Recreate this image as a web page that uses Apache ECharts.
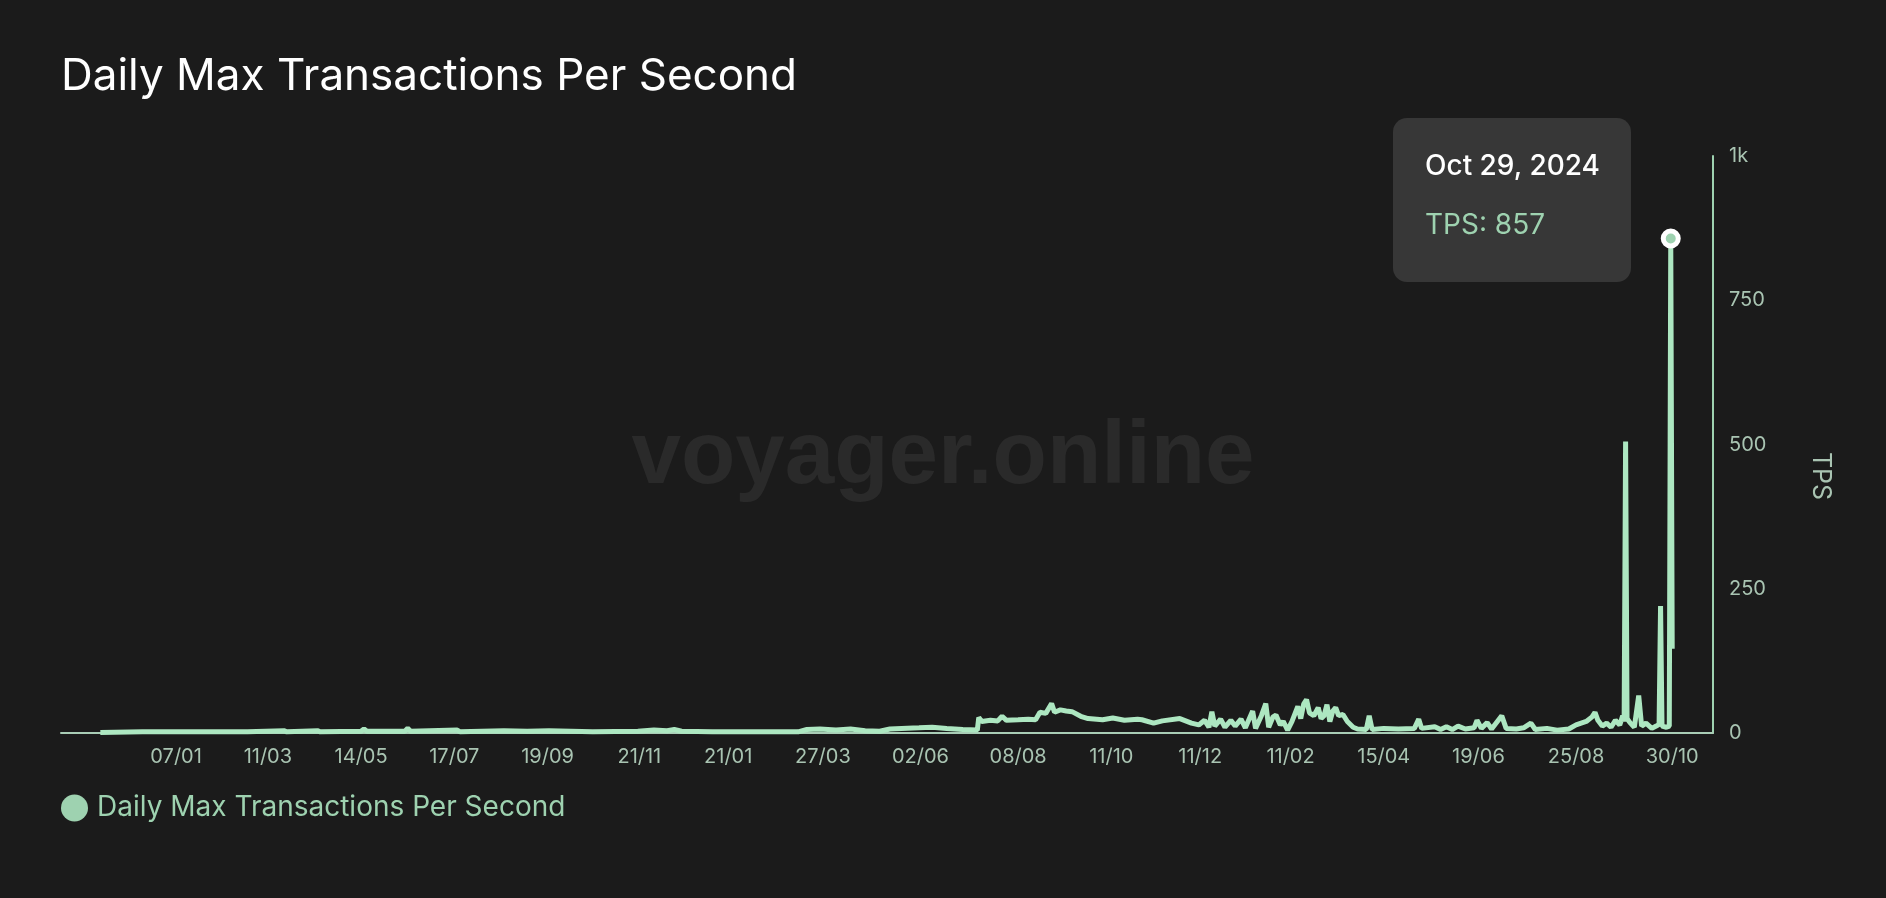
<!DOCTYPE html>
<html>
<head>
<meta charset="utf-8">
<script src="https://cdn.jsdelivr.net/npm/echarts@6/dist/echarts.min.js"></script>
<style>
html,body{margin:0;padding:0;background:#1b1b1b;}
#chart{width:1886px;height:898px;}
</style>
</head>
<body>
<div id="chart"></div>
<script>
const chartTitle = 'Daily Max Transactions Per Second';
const seriesName = 'Daily Max Transactions Per Second';
const watermark = 'voyager.online';
const yAxisName = 'TPS';

const dates = [
 '2021-11-16','2021-12-15','2022-01-20','2022-02-25','2022-03-22','2022-03-24','2022-04-14','2022-04-16','2022-05-14','2022-05-16',
 '2022-05-18','2022-06-13','2022-06-15','2022-06-17','2022-07-19','2022-07-21','2022-08-20','2022-09-05','2022-09-20','2022-10-20',
 '2022-11-20','2022-12-01','2022-12-10','2022-12-15','2022-12-20','2023-01-10','2023-02-10','2023-03-10','2023-03-16','2023-03-25',
 '2023-04-05','2023-04-15','2023-04-25','2023-05-05','2023-05-12','2023-05-20','2023-06-01','2023-06-10','2023-06-20','2023-07-01',
 '2023-07-11','2023-07-12','2023-07-14','2023-07-20','2023-07-25','2023-07-28','2023-07-31','2023-08-08','2023-08-15','2023-08-20',
 '2023-08-23','2023-08-27','2023-08-31','2023-09-02','2023-09-06','2023-09-10','2023-09-14','2023-09-20','2023-09-25','2023-10-05',
 '2023-10-12','2023-10-20','2023-10-29','2023-11-01','2023-11-09','2023-11-15','2023-11-27','2023-12-05','2023-12-10','2023-12-14',
 '2023-12-17','2023-12-19','2023-12-21','2023-12-25','2023-12-28','2024-01-01','2024-01-04','2024-01-08','2024-01-11','2024-01-16',
 '2024-01-18','2024-01-22','2024-01-25','2024-01-27','2024-01-30','2024-02-01','2024-02-04','2024-02-06','2024-02-09','2024-02-12',
 '2024-02-16','2024-02-18','2024-02-20','2024-02-22','2024-02-24','2024-02-27','2024-03-01','2024-03-03','2024-03-05','2024-03-07',
 '2024-03-09','2024-03-11','2024-03-13','2024-03-15','2024-03-18','2024-03-21','2024-03-25','2024-03-28','2024-04-03','2024-04-05',
 '2024-04-07','2024-04-15','2024-04-25','2024-05-06','2024-05-09','2024-05-11','2024-05-20','2024-05-24','2024-05-28','2024-06-01',
 '2024-06-05','2024-06-10','2024-06-16','2024-06-18','2024-06-21','2024-06-25','2024-06-28','2024-07-05','2024-07-08','2024-07-15',
 '2024-07-20','2024-07-25','2024-07-28','2024-08-05','2024-08-12','2024-08-20','2024-08-25','2024-09-01','2024-09-05','2024-09-07',
 '2024-09-09','2024-09-12','2024-09-15','2024-09-18','2024-09-21','2024-09-24','2024-09-26','2024-09-27','2024-09-28','2024-09-29',
 '2024-10-01','2024-10-04','2024-10-07','2024-10-09','2024-10-12','2024-10-16','2024-10-19','2024-10-21','2024-10-22','2024-10-23',
 '2024-10-26','2024-10-28','2024-10-29','2024-10-30'
];
const tps = [
 1,2,2,2,4,2,4,2,3,7,
 3,3,8,3,5,2,4,3,4,2,
 3,5,4,6,3,2,2,2,6,7,
 5,7,4,3,7,8,9,10,8,6,
 5,27,20,22,21,29,22,23,24,23,
 36,34,51,36,40,38,37,29,25,23,
 26,22,24,23,17,21,25,17,14,22,
 10,37,12,24,10,22,12,24,9,38,
 8,30,51,10,28,31,14,20,5,20,
 46,25,50,58,35,30,44,25,30,49,
 20,38,44,30,32,20,10,7,6,30,
 6,8,7,8,24,8,11,6,11,6,
 12,7,9,22,8,18,7,30,8,7,
 9,17,6,8,5,7,14,20,28,36,
 22,12,17,10,22,14,30,20,505,25,
 18,10,65,12,17,8,12,15,220,12,
 10,12,857,146
];

const xTickDates = ['2022-01-07','2022-03-11','2022-05-14','2022-07-17','2022-09-19','2022-11-21',
 '2023-01-21','2023-03-27','2023-06-02','2023-08-08','2023-10-11','2023-12-11',
 '2024-02-11','2024-04-15','2024-06-19','2024-08-25','2024-10-30'];
const xMin = '2021-10-20';
const xMax = '2024-11-27';
const monthNames = ['Jan','Feb','Mar','Apr','May','Jun','Jul','Aug','Sep','Oct','Nov','Dec'];

function parseLocal(s){ const p = s.split('-').map(Number); return new Date(p[0], p[1]-1, p[2]).getTime(); }
function pad(n){ return (n < 10 ? '0' : '') + n; }

const GREEN = '#9ed2b0';
const LABEL = '#a9c4b2';
const FONT = 'Inter';

const chart = echarts.init(document.getElementById('chart'), null, {renderer: 'canvas'});
const seriesData = dates.map((d, i) => [parseLocal(d), tps[i]]);
const maxIdx = tps.indexOf(Math.max(...tps));

chart.setOption({
  animation: false,
  backgroundColor: '#1b1b1b',
  textStyle: {fontFamily: FONT},
  title: {
    text: chartTitle, left: 56, top: 50,
    textStyle: {color: '#ffffff', fontSize: 44, fontWeight: 400, fontFamily: FONT}
  },
  legend: {
    left: 56, top: 789, icon: 'circle', itemWidth: 27, itemHeight: 27,
    itemStyle: {borderWidth: 0, color: GREEN},
    textStyle: {color: GREEN, fontSize: 28, fontFamily: FONT, padding: [0,0,0,4]},
    data: [seriesName]
  },
  graphic: [{
    type: 'text', left: 'center', top: 414, z: 0, silent: true,
    style: {text: watermark, fill: '#2a2a2a', font: 'bold 89px "Liberation Sans", Arial, sans-serif'}
  }, {
    type: 'text', x: 1821, y: 476, rotation: -Math.PI/2, silent: true,
    style: {text: yAxisName, fill: LABEL, font: '25px Inter', align: 'center', verticalAlign: 'middle'}
  }],
  grid: {left: 61, right: 173, top: 156, bottom: 165, containLabel: false},
  tooltip: {
    trigger: 'axis', triggerOn: 'none', alwaysShowContent: true,
    axisPointer: {type: 'none'},
    position: [1393, 118],
    backgroundColor: '#373737', borderWidth: 0, padding: 0,
    extraCssText: 'border-radius:14px;box-shadow:none;',
    formatter: function(params){
      const p = params[0];
      const parts = dates[p.dataIndex].split('-').map(Number);
      const dateStr = monthNames[parts[1]-1] + ' ' + parts[2] + ', ' + parts[0];
      return '<div style="width:238px;height:164px;box-sizing:border-box;padding:29px 0 0 32px;font-family:Inter;">' +
        '<div style="font-size:28px;line-height:36px;color:#ffffff;font-weight:500;">' + dateStr + '</div>' +
        '<div style="font-size:28px;line-height:36px;color:' + GREEN + ';margin-top:23px;">' + yAxisName + ': ' + tps[p.dataIndex] + '</div>' +
        '</div>';
    }
  },
  xAxis: {
    type: 'value', min: parseLocal(xMin), max: parseLocal(xMax), scale: true,
    axisLine: {show: true, lineStyle: {color: '#a9cdb6', width: 2}},
    axisTick: {show: false},
    splitLine: {show: false},
    axisLabel: {
      customValues: xTickDates.map(parseLocal),
      color: LABEL, fontSize: 20, fontFamily: FONT, margin: 14, hideOverlap: false,
      showMinLabel: true, showMaxLabel: true,
      formatter: function(v){ const d = new Date(v); return pad(d.getDate()) + '/' + pad(d.getMonth()+1); }
    }
  },
  yAxis: {
    type: 'value', position: 'right', min: 0, max: 1000, interval: 250,
    axisLine: {show: true, lineStyle: {color: GREEN, width: 2}},
    axisTick: {show: false},
    splitLine: {show: false},
    axisLabel: {
      color: LABEL, fontSize: 20, fontFamily: FONT, margin: 16,
      formatter: function(v){ return v >= 1000 ? (v/1000) + 'k' : String(v); }
    }
  },
  series: [{
    name: seriesName, type: 'line', data: seriesData,
    showSymbol: false, symbol: 'circle', symbolSize: 15,
    itemStyle: {color: GREEN, borderColor: '#ffffff', borderWidth: 5},
    lineStyle: {color: GREEN, width: 5},
    emphasis: {scale: false, lineStyle: {width: 5}},
    z: 3
  }]
});

chart.dispatchAction({type: 'showTip', seriesIndex: 0, dataIndex: maxIdx});
</script>
</body>
</html>
